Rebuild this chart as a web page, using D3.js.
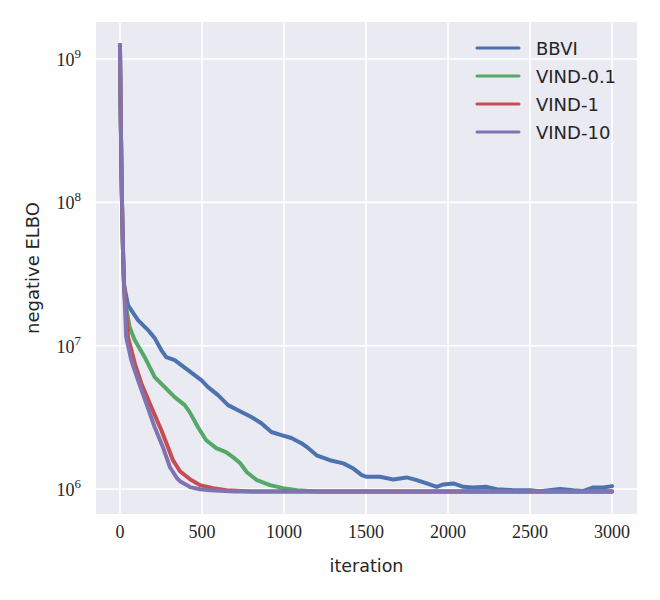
<!DOCTYPE html>
<html><head><meta charset="utf-8">
<script src="https://cdn.jsdelivr.net/npm/d3@7/dist/d3.min.js"></script>
<style>body{margin:0;background:#fff}</style>
</head><body>
<svg id="c" width="660" height="600"></svg>
<script>
const seriesNames = ["BBVI", "VIND-0.1", "VIND-1", "VIND-10"];
const colors = ["#4C72B0", "#55A868", "#C44E52", "#8172B2"];

// shared early drop
const headIter = [0, 5, 10, 15, 20, 25];
const headVal  = [1.25e9, 3.75e8, 1.43e8, 6.95e7, 3.96e7, 2.65e7];

const bbviIter = [49, 69, 110, 171, 212, 252, 282, 334, 374, 415, 455, 496, 537, 598, 659, 720, 801, 862, 923, 984, 1045, 1106, 1138, 1199, 1280, 1362, 1423, 1474, 1504, 1585, 1666, 1748, 1809, 1870, 1931, 1971, 2032, 2093, 2154, 2236, 2297, 2398, 2500, 2561, 2683, 2764, 2825, 2886, 2947, 3000];
const bbviVal  = [1.92e7, 1.77e7, 1.51e7, 1.285e7, 1.13e7, 9.32e6, 8.32e6, 7.93e6, 7.32e6, 6.76e6, 6.23e6, 5.75e6, 5.14e6, 4.52e6, 3.85e6, 3.55e6, 3.18e6, 2.88e6, 2.5e6, 2.38e6, 2.27e6, 2.09e6, 1.97e6, 1.72e6, 1.59e6, 1.51e6, 1.39e6, 1.251e6, 1.217e6, 1.217e6, 1.167e6, 1.205e6, 1.153e6, 1.094e6, 1.036e6, 1.077e6, 1.094e6, 1.036e6, 1.026e6, 1.036e6, 9.98e5, 9.82e5, 9.82e5, 9.67e5, 1.003e6, 9.82e5, 9.7e5, 1.026e6, 1.026e6, 1.048e6];

const vind01Iter = [30, 59, 90, 151, 212, 273, 334, 395, 425, 476, 526, 587, 646, 689, 732, 774, 835, 915, 994, 1079, 1200, 3000];
const vind01Val  = [2.08e7, 1.35e7, 1.094e7, 8.32e6, 6.04e6, 5.14e6, 4.38e6, 3.85e6, 3.44e6, 2.7e6, 2.19e6, 1.93e6, 1.81e6, 1.67e6, 1.52e6, 1.31e6, 1.153e6, 1.065e6, 1.015e6, 9.82e5, 9.62e5, 9.62e5];

const vind1Iter = [49, 90, 130, 191, 252, 293, 323, 366, 427, 488, 567, 650, 800, 3000];
const vind1Val  = [1.148e7, 7.56e6, 5.48e6, 3.73e6, 2.58e6, 1.96e6, 1.59e6, 1.33e6, 1.17e6, 1.065e6, 1.015e6, 9.82e5, 9.62e5, 9.62e5];

const vind10Iter = [38, 69, 110, 160, 212, 262, 305, 348, 366, 409, 427, 488, 549, 700, 3000];
const vind10Val  = [1.148e7, 7.93e6, 5.75e6, 3.98e6, 2.7e6, 1.96e6, 1.42e6, 1.19e6, 1.135e6, 1.065e6, 1.031e6, 9.98e5, 9.82e5, 9.6e5, 9.6e5];

const xTicks = [0, 500, 1000, 1500, 2000, 2500, 3000];
const yTicks = [1e6, 1e7, 1e8, 1e9];
const yTickExp = ["6", "7", "8", "9"];

const seriesIter = [bbviIter, vind01Iter, vind1Iter, vind10Iter];
const seriesVal = [bbviVal, vind01Val, vind1Val, vind10Val];

const L = 96, R = 637, T = 22, B = 514;
const svg = d3.select("#c");
const x = d3.scaleLinear().domain([-146, 3152]).range([L, R]);
const y = d3.scaleLog().domain([Math.pow(10, 5.826), Math.pow(10, 9.258)]).range([B, T]);

svg.append("rect").attr("x", L).attr("y", T).attr("width", R - L).attr("height", B - T).attr("fill", "#EAEAF2");

const g = svg.append("g");
g.selectAll("line.xg").data(xTicks).join("line")
  .attr("x1", d => x(d)).attr("x2", d => x(d)).attr("y1", T).attr("y2", B)
  .attr("stroke", "#fff").attr("stroke-width", 1.6);
g.selectAll("line.yg").data(yTicks).join("line")
  .attr("y1", d => y(d)).attr("y2", d => y(d)).attr("x1", L).attr("x2", R)
  .attr("stroke", "#fff").attr("stroke-width", 1.6);

svg.append("clipPath").attr("id", "pc").append("rect")
  .attr("x", L).attr("y", T).attr("width", R - L).attr("height", B - T);

const line = d3.line().x(d => x(d[0])).y(d => y(d[1]));
const lines = svg.append("g").attr("clip-path", "url(#pc)");
seriesNames.forEach((name, i) => {
  const pts = headIter.map((it, k) => [it, headVal[k]]);
  seriesIter[i].forEach((it, k) => pts.push([it, seriesVal[i][k]]));
  lines.append("path").datum(pts).attr("d", line)
    .attr("fill", "none").attr("stroke", colors[i]).attr("stroke-width", 4)
    .attr("stroke-linejoin", "round").attr("stroke-linecap", "round");
});

const serif = "'Liberation Serif', 'DejaVu Serif', serif";
const sans = "'DejaVu Sans', sans-serif";
svg.selectAll("text.xt").data(xTicks).join("text")
  .attr("x", d => x(d)).attr("y", 538).attr("text-anchor", "middle")
  .attr("font-family", serif).attr("font-size", 18).attr("fill", "#262626")
  .text(d => d);

yTicks.forEach((v, i) => {
  const t = svg.append("text").attr("x", 81).attr("y", y(v) + 7)
    .attr("text-anchor", "end").attr("font-family", serif).attr("font-size", 18).attr("fill", "#262626");
  t.append("tspan").text("10");
  t.append("tspan").attr("font-size", 13).attr("dy", -8).text(yTickExp[i]);
});

svg.append("text").attr("x", (L + R) / 2).attr("y", 572).attr("text-anchor", "middle")
  .attr("font-family", sans).attr("font-size", 17.5).attr("fill", "#262626").text("iteration");
svg.append("text").attr("transform", "translate(39,268) rotate(-90)").attr("text-anchor", "middle")
  .attr("font-family", sans).attr("font-size", 18).attr("fill", "#262626").text("negative ELBO");

const lg = svg.append("g");
seriesNames.forEach((name, i) => {
  const yy = 48 + i * 28;
  lg.append("line").attr("x1", 477).attr("x2", 519).attr("y1", yy).attr("y2", yy)
    .attr("stroke", colors[i]).attr("stroke-width", 3).attr("stroke-linecap", "round");
  lg.append("text").attr("x", 536).attr("y", yy + 6.5).attr("font-family", sans)
    .attr("font-size", 18).attr("fill", "#262626").text(name);
});
</script>
</body></html>
